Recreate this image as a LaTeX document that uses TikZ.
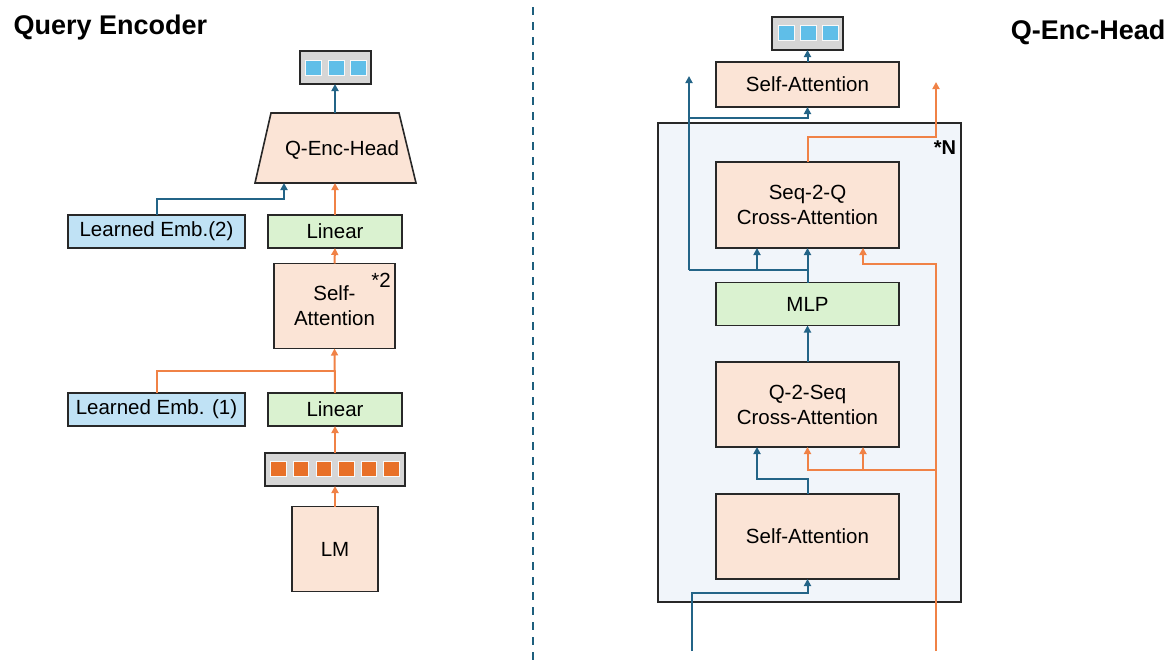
\documentclass[tikz,border=0pt]{standalone}
\usepackage{fontspec}
\setmainfont{Liberation Sans}
\usetikzlibrary{arrows.meta}

\definecolor{flowblue}{RGB}{35,100,135}
\definecolor{floworange}{RGB}{240,130,70}
\definecolor{divblue}{RGB}{30,95,125}
\definecolor{salmon}{RGB}{251,228,214}
\definecolor{mint}{RGB}{218,242,208}
\definecolor{skyfill}{RGB}{192,226,245}
\definecolor{cellgray}{RGB}{214,214,214}
\definecolor{cellblue}{RGB}{95,190,232}
\definecolor{cellorange}{RGB}{232,112,40}
\definecolor{panel}{RGB}{241,245,250}
\definecolor{edge}{RGB}{40,40,40}

\tikzset{
  bodyfont/.style={font=\fontsize{20.5}{25}\selectfont},
  titlefont/.style={font=\bfseries\fontsize{27}{30}\selectfont},
  blockbox/.style={draw=edge, line width=1.6pt, inner sep=0pt, outer sep=0pt, bodyfont, align=center},
  attnbox/.style={blockbox, fill=salmon},
  linbox/.style={blockbox, fill=mint},
  embbox/.style={blockbox, fill=skyfill},
  vecbox/.style={draw=edge, line width=2pt, fill=cellgray, inner sep=0pt, outer sep=0pt},
  qcell/.style={draw=white!85!cellgray, line width=0.8pt, fill=cellblue, minimum width=16pt, minimum height=15pt, inner sep=0pt},
  tcell/.style={draw=white!85!cellgray, line width=0.8pt, fill=cellorange, minimum width=15.5pt, minimum height=15pt, inner sep=0pt},
  tip/.style={-{Triangle[length=7pt,width=7pt]}},
  bflow/.style={draw=flowblue, line width=2pt},
  oflow/.style={draw=floworange, line width=2pt},
}

\begin{document}
\begin{tikzpicture}[x=1pt, y=-1pt]
\useasboundingbox (0,0) rectangle (1176,662);

% ---------------- Query Encoder ----------------
\node[titlefont, anchor=west] (titleL) at (10,28) {Query Encoder};

\node[vecbox, minimum width=71pt, minimum height=33pt] (vecL) at (335,67.5) {};
\foreach \i/\x in {1/313,2/336,3/358}
  \node[qcell] (vecL\i) at (\x,67.5) {};

% head block: a trapezoid that narrows towards the top
\node[inner sep=0pt, outer sep=0pt, minimum width=161pt, minimum height=70pt] (qeh) at (335.5,148) {};
\fill[salmon, draw=edge, line width=1.6pt, line join=miter]
  (qeh.south west) -- (qeh.south east) -- ([xshift=-17pt]qeh.north east)
  -- ([xshift=16pt]qeh.north west) -- cycle;
\node[bodyfont] (qehText) at (342,150) {Q-Enc-Head};

\node[embbox, minimum width=177pt, minimum height=33pt] (le2) at (156.5,231.5) {Learned Emb.(2)};
\node[linbox, minimum width=134pt, minimum height=33pt] (lin2) at (335,231.5) {Linear};
\node[attnbox, minimum width=121pt, minimum height=85pt] (sa2) at (334.5,306) {Self-\\Attention};
\node[bodyfont, anchor=center] (rep2) at (381,280) {*2};
\node[embbox, minimum width=177pt, minimum height=33pt] (le1) at (156.5,409.5) {Learned Emb. (1)};
\node[linbox, minimum width=134pt, minimum height=33pt] (lin1) at (335,409.5) {Linear};

\node[vecbox, minimum width=140pt, minimum height=33pt] (tok) at (335,469.5) {};
\foreach \i in {0,...,5}
  \node[tcell] (tok\i) at ({278.5+22.6*\i},468.5) {};

\node[attnbox, minimum width=86pt, minimum height=85pt] (lm) at (335,549) {LM};

\coordinate (j1) at (335,371);
\coordinate (j2) at (284,199);
\coordinate (qehTop) at (335,113);

\draw[oflow, tip] (lm.north) -- (tok.south);
\draw[oflow, tip] (tok.north) -- (lin1.south);
\draw[oflow, tip] (lin1.north) -- (sa2.south);
\draw[oflow] (le1.north) |- (j1);
\draw[oflow, tip] (sa2.north) -- (lin2.south);
\draw[oflow, tip] (lin2.north) -- (lin2.north |- qeh.south);
\draw[bflow, tip] (le2.north) |- (j2) -- (j2 |- qeh.south);
\draw[bflow, tip] (qehTop) -- (vecL.south);

% ---------------- divider ----------------
\coordinate (dTop) at (533,7);
\coordinate (dBot) at (533,662);
\draw[divblue, line width=2.6pt, dash pattern=on 8pt off 7pt] (dTop) -- (dBot);

% ---------------- Q-Enc-Head ----------------
\node[titlefont, anchor=east] (titleR) at (1169,32) {Q-Enc-Head};

\node[draw=edge, line width=1.6pt, fill=panel, minimum width=303pt, minimum height=479pt,
      inner sep=0pt, outer sep=0pt] (stack) at (809.5,362.5) {};
\node[font=\bfseries\fontsize{20}{22}\selectfont] (repN) at (945,148) {*N};

\node[vecbox, minimum width=71pt, minimum height=33pt] (vecR) at (807.5,33.5) {};
\foreach \i/\x in {1/786,2/808,3/830}
  \node[qcell] (vecR\i) at (\x,33) {};

\node[attnbox, minimum width=183pt, minimum height=45pt] (saTop) at (807.5,84.5) {Self-Attention};
\node[attnbox, minimum width=183pt, minimum height=86pt] (s2q) at (807.5,205) {Seq-2-Q\\Cross-Attention};
\node[linbox, minimum width=183pt, minimum height=43pt] (mlp) at (807.5,304) {MLP};
\node[attnbox, minimum width=183pt, minimum height=85pt] (q2s) at (807.5,404.5) {Q-2-Seq\\Cross-Attention};
\node[attnbox, minimum width=183pt, minimum height=85pt] (saBot) at (807.5,536.5) {Self-Attention};

% query stream (blue)
\coordinate (inB) at (692,651);
\coordinate (kB) at (807.5,593);
\coordinate (c1) at (757,479);
\coordinate (h1) at (689,270);
\coordinate (h2) at (757,270);
\coordinate (h3) at (807.5,270);
\coordinate (b1) at (689,118);
\coordinate (outB) at (689,76);

\draw[bflow, tip] (inB) |- (kB) -- (saBot.south);
\draw[bflow, tip] (saBot.north) |- (c1) -- (c1 |- q2s.south);
\draw[bflow, tip] (q2s.north) -- (mlp.south);
\draw[bflow, tip] (mlp.north) -- (s2q.south);
\draw[bflow] (h3) -- (h1);
\draw[bflow, tip] (h2) -- (h2 |- s2q.south);
\draw[bflow, tip] (h1) -- (outB);
\draw[bflow, tip] (b1) -| (saTop.south);
\draw[bflow, tip] (saTop.north) -- (vecR.south);

% sequence stream (orange)
\coordinate (inO) at (936,651);
\coordinate (o2) at (863,264);
\coordinate (o3) at (936,470);
\coordinate (o4) at (863,470);
\coordinate (o5) at (807.5,470);
\coordinate (o6) at (936,137);
\coordinate (outO) at (936,82);

\draw[oflow, tip] (inO) |- (o2) -- (o2 |- s2q.south);
\draw[oflow, tip] (o3) -- (o5) -- (o5 |- q2s.south);
\draw[oflow, tip] (o4) -- (o4 |- q2s.south);
\draw[oflow, tip] (s2q.north) |- (o6) -- (outO);
\end{tikzpicture}
\end{document}
